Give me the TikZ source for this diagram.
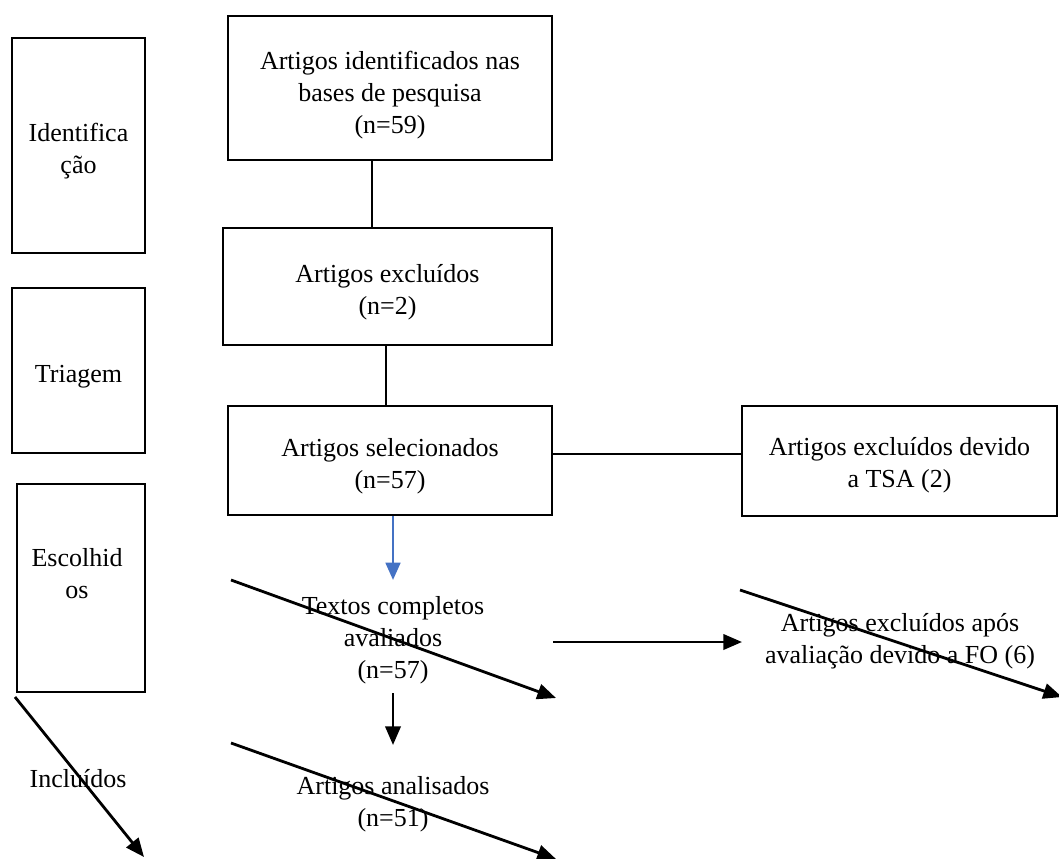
\documentclass[tikz,border=0pt]{standalone}
\usepackage{fontspec}
\setmainfont{Liberation Serif}
\usetikzlibrary{arrows.meta}
\definecolor{arrowblue}{RGB}{68,114,196}
\begin{document}
\begin{tikzpicture}[x=0.75pt,y=-0.75pt,
  every node/.style={font=\fontsize{19.5}{24}\selectfont, inner sep=0pt, align=center},
  box/.style={draw, line width=2.1pt},
  conn/.style={line width=2.1pt},
  arr/.style={line width=2.1pt, -{Triangle[length=14pt,width=11.5pt]}},
  bluearr/.style={line width=2.1pt, draw=arrowblue, -{Triangle[length=13pt,width=11pt]}, arrowblue}
]
\useasboundingbox (0,0) rectangle (1059,859);
% left column
\node[box, minimum width=133*0.75pt, minimum height=215*0.75pt] (ident) at (78.5,145.5) {};
\node (identt) at ([yshift=-4pt]ident.center) {Identifica\\ção};
\node[box, minimum width=133*0.75pt, minimum height=165*0.75pt] (triag) at (78.5,370.5) {};
\node (triagt) at ([yshift=-5pt]triag.center) {Triagem};
\node[box, minimum width=128*0.75pt, minimum height=208*0.75pt] (esc) at (81,588) {};
\node (esct) at (77,574) {Escolhid\\os};
\node (incl) at (78,779) {Incluídos};
% center column
\node[box, minimum width=324*0.75pt, minimum height=144*0.75pt] (b1) at (390,88) {};
\node (b1t) at ([yshift=-5pt]b1.center) {Artigos identificados nas\\bases de pesquisa\\(n=59)};
\node[box, minimum width=329*0.75pt, minimum height=117*0.75pt] (b2) at (387.5,286.5) {};
\node (b2t) at ([yshift=-4pt]b2.center) {Artigos excluídos\\(n=2)};
\node[box, minimum width=324*0.75pt, minimum height=109*0.75pt] (b3) at (390,460.5) {};
\node (b3t) at ([yshift=-4pt]b3.center) {Artigos selecionados\\(n=57)};
\node[box, minimum width=315*0.75pt, minimum height=110*0.75pt] (b4) at (899.5,461) {};
\node (b4t) at ([yshift=-3pt]b4.center) {Artigos excluídos devido\\a TSA (2)};
\node (t1) at (393,640) {Textos completos\\avaliados\\(n=57)};
\node (t2) at (900,641) {Artigos excluídos após\\avaliação devido a FO (6)};
\node (t3) at (393,804) {Artigos analisados\\(n=51)};
% coordinates
\coordinate (x1) at (372,0);
\coordinate (x2) at (386,0);
\coordinate (x3) at (393,0);
\coordinate (yh) at (0,454);
\coordinate (bt) at (0,580);
\coordinate (ht) at (553,642);
\coordinate (hh) at (742,642);
\coordinate (dt) at (393,693);
\coordinate (dh) at (393,745);
\coordinate (d1s) at (231,580);
\coordinate (d1e) at (556,698);
\coordinate (d2s) at (740,590);
\coordinate (d2e) at (1062,697);
\coordinate (d3s) at (231,743);
\coordinate (d3e) at (556,859);
\coordinate (d4s) at (15,697);
\coordinate (d4e) at (144,857);
% connectors
\draw[conn] (b1.south -| x1) -- (b2.north -| x1);
\draw[conn] (b2.south -| x2) -- (b3.north -| x2);
\draw[conn] (b3.east |- yh) -- (b4.west |- yh);
\draw[bluearr] (b3.south -| x3) -- (bt -| x3);
\draw[arr] (ht) -- (hh);
\draw[arr] (dt) -- (dh);
\draw[arr] (d1s) -- (d1e);
\draw[arr] (d2s) -- (d2e);
\draw[arr] (d3s) -- (d3e);
\draw[arr] (d4s) -- (d4e);
\end{tikzpicture}
\end{document}
